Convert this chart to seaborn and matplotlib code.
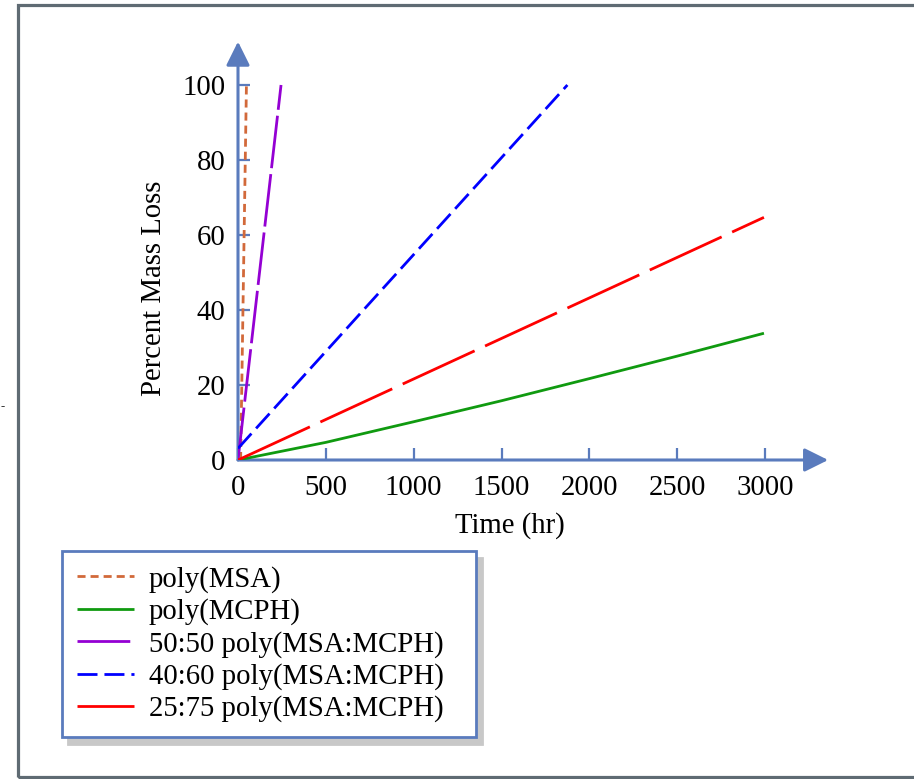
import matplotlib
matplotlib.use("Agg")
import matplotlib.pyplot as plt
import seaborn as sns
import pandas as pd
from matplotlib.patches import Rectangle

# ---- data ----
msa_time = [15, 48]
msa_loss = [0, 100]

mcph_time = [0, 500, 1000, 1500, 2000, 2500, 2994]
mcph_loss = [0, 4.7, 10.2, 15.8, 21.7, 27.7, 33.8]

r5050_time = [0, 245]
r5050_loss = [0, 100]

r4060_time = [0, 1875]
r4060_loss = [3.1, 100]

r2575_time = [0, 2994]
r2575_loss = [0, 64.7]

labels = ["poly(MSA)", "poly(MCPH)", "50:50 poly(MSA:MCPH)",
          "40:60 poly(MSA:MCPH)", "25:75 poly(MSA:MCPH)"]
colors = ["#d2693a", "#109a10", "#9400d3", "#0000ff", "#ff0000"]
dash_styles = [(5.8, 3.6), None, (38, 4.3), (14.4, 5.0), (57, 8.3)]

x_ticks = [0, 500, 1000, 1500, 2000, 2500, 3000]
y_ticks = [0, 20, 40, 60, 80, 100]

sns.set_theme(style="white")
plt.rcParams["font.family"] = ["Liberation Serif", "DejaVu Serif"]
plt.rcParams["lines.scale_dashes"] = False
plt.rcParams["text.color"] = "black"

axis_color = "#5a7bbd"
FS = 20.7

fig = plt.figure(figsize=(9.14, 7.79), dpi=100)
ax = fig.add_axes([238 / 914, (779 - 460) / 779, (817.7 - 238) / 914, (460 - 55) / 779])

series = [(msa_time, msa_loss), (mcph_time, mcph_loss), (r5050_time, r5050_loss),
          (r4060_time, r4060_loss), (r2575_time, r2575_loss)]

for (t, l), lab, c, d in zip(series, labels, colors, dash_styles):
    df = pd.DataFrame({"Time": t, "Loss": l})
    sns.lineplot(data=df, x="Time", y="Loss", ax=ax, color=c, linewidth=2.0,
                 label=lab, estimator=None, sort=False)
    line = ax.lines[-1]
    if d is not None:
        line.set_dashes(d)
    line.set_solid_capstyle("butt")
    line.set_dash_capstyle("butt")

ax.set_xlim(0, 3300)
ax.set_ylim(0, 108)
ax.set_xticks(x_ticks)
ax.set_yticks(y_ticks)
ax.set_xticklabels([str(v) for v in x_ticks])
ax.set_yticklabels([str(v) for v in y_ticks])
ax.tick_params(direction="in", length=8.5, width=1.6, color=axis_color,
               labelsize=FS, labelcolor="black")
ax.tick_params(axis="x", bottom=True, pad=11)
ax.tick_params(axis="y", left=True, pad=9)
for s in ax.spines.values():
    s.set_visible(False)
ax.grid(False)
ax.set_facecolor("none")

# axis lines with arrow heads
arrow_kw = dict(arrowstyle="-|>,head_length=1.45,head_width=0.72",
                color=axis_color, lw=2.2, mutation_scale=10,
                shrinkA=0, shrinkB=0)
ax.annotate("", xy=(1.018, 0), xytext=(0, 0), xycoords="axes fraction",
            textcoords="axes fraction", arrowprops=arrow_kw, annotation_clip=False, zorder=1)
ax.annotate("", xy=(0, 1.033), xytext=(0, 0), xycoords="axes fraction",
            textcoords="axes fraction", arrowprops=arrow_kw, annotation_clip=False, zorder=1)

ax.set_xlabel("Time (hr)", fontsize=FS, color="black")
ax.set_ylabel("Percent Mass Loss", fontsize=FS, color="black")
ax.xaxis.set_label_coords((510 - 238) / 579.7, (460 - 512) / 405)
ax.yaxis.set_label_coords((167 - 238) / 579.7, (460 - 288) / 405)

leg = ax.legend(loc="upper left",
                bbox_to_anchor=(62 / 914, 1 - 738 / 779, 414 / 914, 187 / 779),
                bbox_transform=fig.transFigure, mode="expand", fontsize=FS,
                frameon=True, fancybox=False, framealpha=1, edgecolor=axis_color,
                borderaxespad=0, handlelength=2.0, handletextpad=0.5,
                labelspacing=0.19, borderpad=0.52,
                shadow={"ox": 4.5, "oy": -5, "color": "#c8c8c8", "alpha": 1})
leg.get_frame().set_linewidth(2.0)
for txt in leg.get_texts():
    txt.set_color("black")

# outer frame
fig.add_artist(Rectangle((17.5 / 914, 2 / 779), 1.2, (777 - 5) / 779,
                         transform=fig.transFigure, fill=False,
                         edgecolor="#5f6b73", linewidth=2.3))
fig.text(0.001, 1 - 407 / 779, "-", fontsize=9, color="#333333", va="center")

fig.savefig("out.png", dpi=100)
